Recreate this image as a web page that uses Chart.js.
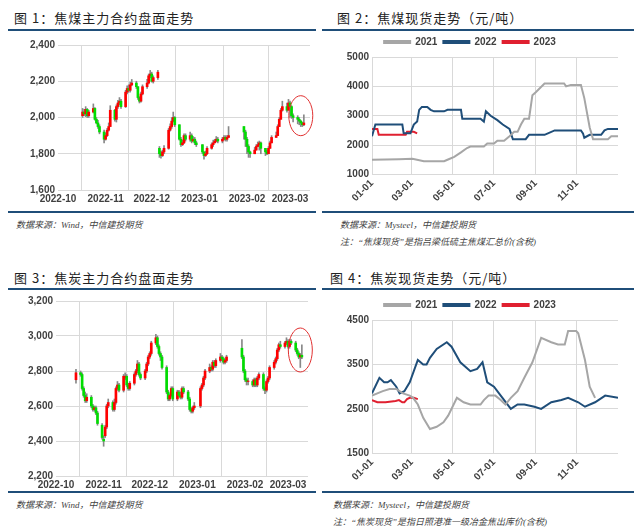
<!DOCTYPE html>
<html><head><meta charset="utf-8">
<script src="https://cdn.jsdelivr.net/npm/chart.js@4.4.0/dist/chart.umd.min.js"></script>
<style>
body{margin:0;width:640px;height:531px;background:#fff;position:relative;overflow:hidden;font-family:"Noto Sans CJK SC",sans-serif}
.t{position:absolute;font-size:13px;color:#222;letter-spacing:1px}
.r{position:absolute;height:2px;background:#1f4e79}
.s{position:absolute;font-size:9px;color:#444;font-style:italic;font-family:"Liberation Serif","Noto Sans CJK SC",serif}
canvas{position:absolute}
</style></head><body>
<div class="t" style="left:14px;top:8px">图 1：焦煤主力合约盘面走势</div>
<div class="t" style="left:337px;top:8px">图 2：焦煤现货走势（元/吨）</div>
<div class="t" style="left:14px;top:268px">图 3：焦炭主力合约盘面走势</div>
<div class="t" style="left:330px;top:268px">图 4：焦炭现货走势（元/吨）</div>
<div class="r" style="left:8px;top:29px;width:308px"></div>
<div class="r" style="left:322px;top:29px;width:312px"></div>
<div class="r" style="left:8px;top:211px;width:308px"></div>
<div class="r" style="left:322px;top:211px;width:312px"></div>
<div class="r" style="left:8px;top:288px;width:308px"></div>
<div class="r" style="left:322px;top:288px;width:312px"></div>
<div class="r" style="left:8px;top:491px;width:308px"></div>
<div class="r" style="left:322px;top:491px;width:312px"></div>
<div class="s" style="left:16px;top:218px">数据来源：Wind，中信建投期货</div>
<div class="s" style="left:340px;top:218px">数据来源：Mysteel，中信建投期货</div>
<div class="s" style="left:340px;top:235px">注：“焦煤现货”是指吕梁低硫主焦煤汇总价(含税)</div>
<div class="s" style="left:16px;top:498px">数据来源：Wind，中信建投期货</div>
<div class="s" style="left:333px;top:498px">数据来源：Mysteel，中信建投期货</div>
<div class="s" style="left:333px;top:515px">注：“焦炭现货”是指日照港准一级冶金焦出库价(含税)</div>
<canvas id="c1" style="left:10px;top:36px"></canvas>
<canvas id="c2" style="left:322px;top:31px"></canvas>
<canvas id="c3" style="left:8px;top:292px"></canvas>
<canvas id="c4" style="left:322px;top:294px"></canvas>
<script>
// futures: day index counted from 2022-10-01
const futMonthDays = [0, 31, 61, 92, 123, 151];
const futMonthLabels = ['2022-10', '2022-11', '2022-12', '2023-01', '2023-02', '2023-03'];

const coalDays = [16,17,18,19,20,23,24,25,26,27,30,31,32,33,34,37,38,39,40,41,44,45,46,47,48,51,52,53,54,55,58,59,60,61,62,65,66,67,68,69,72,73,74,75,76,79,80,81,82,83,86,87,88,89,90,94,95,96,97,100,101,102,103,104,107,108,109,110,111,121,122,123,124,125,128,129,130,131,132,135,136,137,138,139,142,143,144,145,146,149,150,151,152,153,156,157,158,159,160];
const coalOpen  = [2010,2030,2020,2045,2010,2030,2050,1990,1970,1950,1920,1880,1900,1930,1950,2040,1990,2060,2080,2090,2060,2140,2160,2150,2180,2190,2170,2110,2090,2130,2170,2190,2230,2240,2200,2220,1830,1800,1790,1810,1830,1930,1950,1980,2000,1960,1880,1850,1860,1900,1880,1900,1870,1880,1860,1850,1810,1790,1800,1830,1850,1860,1870,1880,1870,1880,1890,1880,1890,1950,1920,1880,1840,1810,1800,1820,1840,1850,1860,1830,1810,1800,1830,1860,1890,1900,1950,1990,2040,2060,2040,2080,2060,2010,2000,1990,1980,1970,1960];
const coalClose = [2030,2020,2045,2010,2030,2050,1990,1970,1950,1920,1880,1900,1930,1950,2040,1990,2060,2080,2090,2060,2140,2160,2150,2180,2190,2170,2110,2090,2130,2170,2190,2230,2240,2200,2220,2250,1800,1790,1810,1830,1930,1950,1980,2000,1960,1880,1850,1860,1900,1880,1900,1870,1880,1860,1850,1810,1790,1800,1830,1850,1860,1870,1880,1870,1880,1890,1880,1890,1900,1920,1880,1840,1810,1800,1820,1840,1850,1860,1830,1810,1800,1830,1860,1890,1900,1950,1990,2040,2060,2040,2080,2060,2010,2000,1990,1980,1970,1960,1970];
const coalHigh  = [2050,2045,2060,2050,2040,2075,2055,2000,1985,1960,1930,1915,1940,1970,2065,2045,2070,2095,2110,2100,2150,2175,2180,2195,2210,2200,2170,2115,2140,2180,2210,2240,2260,2250,2230,2260,1840,1815,1820,1845,1940,1965,2000,2030,2005,1960,1890,1875,1910,1910,1920,1910,1895,1890,1870,1850,1810,1815,1840,1860,1875,1880,1895,1890,1890,1900,1900,1900,1950,1935,1930,1890,1850,1815,1835,1850,1865,1870,1865,1830,1820,1840,1870,1900,1920,1960,2000,2050,2090,2080,2100,2090,2065,2020,2010,2000,1985,1975,2015];
const coalLow   = [2000,2010,2005,2000,2000,2025,1985,1965,1940,1910,1860,1875,1895,1925,1950,1980,1975,2050,2070,2050,2055,2130,2140,2140,2175,2160,2100,2080,2085,2125,2160,2185,2220,2195,2190,2210,1780,1775,1785,1800,1825,1925,1940,1975,1950,1875,1840,1845,1855,1870,1870,1860,1870,1850,1840,1800,1770,1785,1795,1825,1840,1860,1865,1860,1860,1875,1870,1870,1890,1880,1840,1800,1780,1780,1810,1830,1845,1820,1800,1790,1795,1820,1850,1880,1900,1940,1980,2030,2035,2030,2050,2000,1995,1975,1965,1960,1950,1950,1955];

const cokeDays = [13,16,17,18,19,20,23,24,25,26,27,30,31,32,33,34,37,38,39,40,41,44,45,46,47,48,51,52,53,54,55,58,59,60,61,62,65,66,67,68,69,72,73,74,75,76,79,80,81,82,83,86,87,88,89,90,94,95,96,97,100,101,102,103,104,107,108,109,110,111,121,122,123,124,125,128,129,130,131,132,135,136,137,138,139,142,143,144,145,146,149,150,151,152,153,156,157,158,159,160];
const cokeOpen  = [2750,2790,2780,2700,2660,2630,2650,2600,2580,2590,2560,2490,2410,2430,2480,2600,2620,2580,2620,2700,2720,2690,2760,2770,2720,2700,2730,2780,2800,2840,2780,2760,2800,2840,2880,2900,2960,2990,2940,2900,2880,2820,2680,2640,2660,2700,2640,2680,2660,2650,2700,2680,2640,2580,2570,2590,2600,2700,2720,2760,2800,2820,2810,2850,2830,2860,2880,2870,2850,2860,2930,2880,2800,2750,2740,2740,2720,2750,2720,2760,2780,2700,2690,2740,2760,2820,2850,2870,2920,2950,2940,2960,2970,2940,2970,2960,2920,2900,2880,2890];
const cokeClose = [2790,2780,2700,2660,2630,2650,2600,2580,2590,2560,2500,2420,2400,2480,2600,2620,2580,2620,2700,2720,2690,2770,2770,2720,2700,2730,2780,2800,2840,2780,2760,2800,2840,2880,2900,2960,2990,2940,2900,2880,2820,2680,2640,2660,2700,2640,2680,2660,2650,2700,2680,2640,2580,2570,2590,2600,2700,2720,2760,2800,2820,2810,2850,2830,2860,2880,2870,2850,2860,2880,2880,2800,2750,2740,2740,2720,2750,2720,2760,2780,2700,2690,2740,2760,2820,2850,2870,2920,2950,2940,2960,2970,2940,2970,2960,2920,2900,2880,2890,2880];
const cokeHigh  = [2810,2800,2790,2710,2680,2670,2660,2610,2600,2600,2570,2500,2430,2490,2610,2640,2630,2640,2710,2740,2730,2780,2790,2780,2730,2740,2790,2810,2860,2850,2790,2810,2850,2890,2910,2970,3010,3000,2950,2910,2890,2830,2690,2670,2710,2710,2690,2690,2680,2710,2710,2690,2650,2590,2600,2620,2710,2730,2770,2810,2840,2830,2860,2860,2870,2900,2890,2880,2870,2890,2980,2890,2810,2760,2760,2750,2760,2760,2770,2790,2790,2710,2750,2770,2830,2860,2880,2930,2960,2970,2970,2990,2980,2980,2980,2970,2930,2910,2900,2950];
const cokeLow   = [2730,2770,2690,2650,2620,2620,2590,2570,2570,2550,2490,2410,2370,2420,2470,2590,2570,2570,2610,2690,2680,2680,2750,2710,2690,2690,2720,2770,2790,2770,2750,2750,2790,2830,2870,2890,2950,2930,2890,2860,2810,2670,2630,2630,2650,2630,2630,2650,2640,2640,2670,2630,2570,2560,2560,2580,2590,2690,2710,2750,2790,2800,2800,2820,2820,2850,2860,2840,2840,2850,2870,2790,2740,2720,2720,2710,2710,2710,2710,2750,2690,2670,2680,2730,2750,2810,2840,2860,2910,2930,2930,2950,2930,2930,2950,2910,2890,2870,2820,2870];

// spot: day of year
const spotMonthDays = [0, 59, 120, 181, 243, 304];
const spotMonthLabels = ['01-01', '03-01', '05-01', '07-01', '09-01', '11-01'];

const coalSpot21X = [0,40,60,77,107,112,122,132,141,146,166,171,181,186,196,204,211,216,221,226,233,238,243,256,285,288,295,310,315,323,328,350,355,365];
const coalSpot21Y = [1500,1520,1530,1450,1450,1500,1600,1750,1900,1950,1950,2050,2050,2150,2150,2300,2450,2450,2700,2900,2900,3700,3800,4100,4100,4000,4050,4050,3600,2600,2200,2200,2300,2300];
const coalSpot22X = [0,5,45,47,57,62,67,70,74,82,87,92,107,112,132,134,161,166,169,176,186,194,204,209,228,233,256,261,271,310,313,315,323,340,345,350,365];
const coalSpot22Y = [2300,2700,2700,2400,2400,2700,2800,3200,3300,3300,3200,3150,3150,3200,3200,2900,2900,2800,3150,3000,2850,2700,2550,2200,2200,2350,2350,2400,2500,2500,2400,2250,2350,2350,2500,2550,2550];
const coalSpot23X = [0,8,10,50,52,62,67];
const coalSpot23Y = [2550,2550,2350,2350,2450,2450,2400];

const cokeSpot21X = [0,16,26,36,46,56,61,68,76,86,96,106,113,126,136,146,161,166,173,183,191,198,206,216,226,238,251,266,276,286,291,303,306,316,323,331];
const cokeSpot21Y = [2800,2900,2950,2950,2850,2800,2750,2600,2300,2050,2100,2200,2350,2750,2650,2600,2600,2700,2800,2800,2700,2600,2750,2900,3200,3550,4100,4000,3950,3950,4250,4250,4200,3600,3000,2750];
const cokeSpot22X = [0,11,18,23,28,36,41,48,56,68,76,81,86,96,111,118,131,146,156,164,171,181,191,206,216,226,241,251,266,281,291,306,316,331,346,365];
const cokeSpot22Y = [2850,3200,3100,3100,3150,3000,2850,2900,3100,3600,3500,3500,3650,3850,4000,3900,3550,3350,3400,3550,3100,3000,2800,2500,2600,2600,2550,2500,2650,2700,2750,2650,2550,2650,2800,2750];
const cokeSpot23X = [0,8,20,35,40,45,48,52,56,62,68];
const cokeSpot23Y = [2700,2650,2650,2680,2700,2650,2650,2720,2750,2750,2720];

const UP = '#ff0000', DOWN = '#00dd00';
const tickFont = { family: 'Liberation Sans', size: 10, weight: 'bold' };

function pairs(xs, ys) { return xs.map((x, i) => ({ x, y: ys[i] })); }

const ringPlugin = {
    id: 'ring',
    afterDatasetsDraw(chart, args, opts) {
        const { ctx, scales } = chart;
        const cx = scales.x.getPixelForValue(opts.x), cy = scales.y.getPixelForValue(opts.y);
        ctx.save();
        ctx.strokeStyle = '#e03030';
        ctx.lineWidth = 1;
        ctx.beginPath();
        ctx.ellipse(cx, cy, opts.rx, opts.ry, 0, 0, Math.PI * 2);
        ctx.stroke();
        ctx.restore();
    }
};

function candleChart(id, days, o, hi, lo, c, yMin, yMax, ring) {
    const colors = c.map((v, i) => v >= o[i] ? UP : DOWN);
    new Chart(document.getElementById(id), {
        type: 'bar',
        data: {
            datasets: [{
                // wick, kept around the body
                data: days.map((d, i) => ({ x: d, y: [Math.min(lo[i], o[i], c[i]), Math.max(hi[i], o[i], c[i])] })),
                backgroundColor: '#888', barThickness: 1, grouped: false, order: 2
            }, {
                data: days.map((d, i) => ({ x: d, y: [o[i], c[i] === o[i] ? c[i] + 3 : c[i]] })),
                backgroundColor: colors, barThickness: 2, grouped: false, order: 1
            }]
        },
        options: {
            responsive: false, animation: false,
            plugins: { legend: { display: false }, tooltip: { enabled: false }, ring },
            layout: { padding: { right: 6, top: 4 } },
            scales: {
                x: {
                    type: 'linear', min: 0, max: 164, offset: false,
                    afterBuildTicks: s => { s.ticks = futMonthDays.map(v => ({ value: v })); },
                    ticks: { callback: v => futMonthLabels[futMonthDays.indexOf(v)], font: tickFont, color: '#404040', maxRotation: 0, autoSkip: false },
                    grid: { color: '#d9d9d9', drawTicks: false }, border: { display: false }
                },
                y: {
                    min: yMin, max: yMax,
                    ticks: { stepSize: 200, font: tickFont, color: '#404040', callback: v => v.toLocaleString('en-US') },
                    grid: { color: '#d9d9d9', drawTicks: false }, border: { display: false },
                    afterFit: s => { s.width = 48; }
                }
            }
        },
        plugins: [ringPlugin]
    });
}

function spotChart(id, s21x, s21y, s22x, s22y, s23x, s23y, yMin, yMax, step) {
    const line = (label, xs, ys, color) => ({
        label, data: pairs(xs, ys), borderColor: color, backgroundColor: color,
        borderWidth: 2, pointRadius: 0, tension: 0
    });
    new Chart(document.getElementById(id), {
        type: 'line',
        data: {
            datasets: [
                line('2021', s21x, s21y, '#a6a6a6'),
                line('2022', s22x, s22y, '#1f4e79'),
                line('2023', s23x, s23y, '#e02030')
            ]
        },
        options: {
            responsive: false, animation: false,
            plugins: {
                legend: { position: 'top', labels: { boxWidth: 26, boxHeight: 2, font: tickFont, color: '#404040', padding: 6 } },
                tooltip: { enabled: false }
            },
            layout: { padding: { right: 10 } },
            scales: {
                x: {
                    type: 'linear', min: 0, max: 365,
                    afterBuildTicks: s => { s.ticks = spotMonthDays.map(v => ({ value: v })); },
                    ticks: { callback: v => spotMonthLabels[spotMonthDays.indexOf(v)], font: tickFont, color: '#404040', maxRotation: 45, minRotation: 45, autoSkip: false },
                    grid: { color: '#d9d9d9', drawTicks: false }, border: { display: false }
                },
                y: {
                    min: yMin, max: yMax,
                    ticks: { stepSize: step, font: tickFont, color: '#404040', callback: v => String(v) },
                    grid: { color: '#d9d9d9', drawTicks: false }, border: { display: false },
                    afterFit: s => { s.width = 50; }
                }
            }
        }
    });
}

function size(id, w, h) { const el = document.getElementById(id); el.width = w; el.height = h; el.style.width = w + 'px'; el.style.height = h + 'px'; }
size('c1', 306, 172); size('c2', 306, 176); size('c3', 306, 202); size('c4', 306, 192);

candleChart('c1', coalDays, coalOpen, coalHigh, coalLow, coalClose, 1600, 2400, { x: 158, y: 2010, rx: 12, ry: 20 });
spotChart('c2', coalSpot21X, coalSpot21Y, coalSpot22X, coalSpot22Y, coalSpot23X, coalSpot23Y, 1000, 5000, 1000);
candleChart('c3', cokeDays, cokeOpen, cokeHigh, cokeLow, cokeClose, 2200, 3200, { x: 159, y: 2920, rx: 12, ry: 22 });
spotChart('c4', cokeSpot21X, cokeSpot21Y, cokeSpot22X, cokeSpot22Y, cokeSpot23X, cokeSpot23Y, 1500, 4500, 1000);
</script>
</body></html>
